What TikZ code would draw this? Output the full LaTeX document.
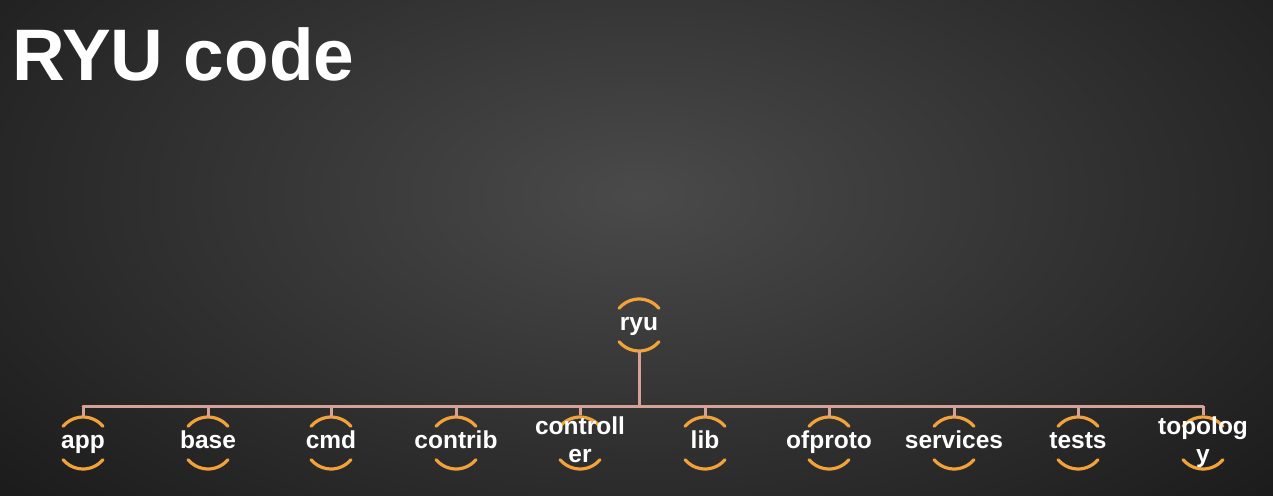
\documentclass[tikz,border=0pt]{standalone}
\usepackage{fontspec}
\setmainfont{Liberation Sans}
\definecolor{bginner}{HTML}{4A4A4A}
\definecolor{bgouter}{HTML}{1C1C1C}
\definecolor{arcc}{HTML}{F2A23A}
\definecolor{linkc}{HTML}{D6A197}
\pgfdeclarelayer{bglayer}
\pgfdeclarelayer{arclayer}
\pgfsetlayers{bglayer,arclayer,main}
\newcommand{\dirtext}[1]{\raisebox{-1.5pt}{\makebox[0pt][c]{\begin{tabular}{@{}c@{}}#1\end{tabular}}}}
\begin{document}
\begin{tikzpicture}[x=1pt,y=-1pt,
  dirnode/.style={circle, minimum size=52pt, inner sep=0pt,
    font=\bfseries\fontsize{24.5}{28}\selectfont, text=white},
  arcs/.style={draw=arcc, line width=3.2pt, line cap=round},
  link/.style={draw=linkc, line width=3pt}]
\useasboundingbox (0,0) rectangle (1273,495);
\begin{pgfonlayer}{bglayer}
\shade[inner color=bginner, outer color=bgouter] (-200,-250) rectangle (1480,640);
\end{pgfonlayer}
\node[anchor=base west, inner sep=0pt, text=white, font=\bfseries\fontsize{73}{80}\selectfont] (title) at (12,80) {RYU code};
% parent
\node[dirnode] (ryu) at (639,325) {\dirtext{ryu}};
% children
\foreach \n/\x/\t in {app/83/app, base/208/base, cmd/331/cmd, contrib/456/contrib,
  controller/580/{controll\\er}, lib/705/lib, ofproto/829/ofproto, services/954/services,
  tests/1078/tests, topology/1203/{topolog\\y}} {
  \node[dirnode] (\n) at (\x,443) {\dirtext{\t}};
}
\coordinate (busL) at (83,406);
\coordinate (busR) at (1203,406);
\coordinate (busM) at (639,406);
% arcs
\begin{pgfonlayer}{arclayer}
\foreach \n in {ryu,app,base,cmd,contrib,controller,lib,ofproto,services,tests,topology} {
  \path (\n.center) ++(40:26) coordinate (\n-a1);
  \path (\n.center) ++(-40:26) coordinate (\n-b1);
  \draw[arcs] (\n-a1) arc[start angle=40, end angle=140, radius=26];
  \draw[arcs] (\n-b1) arc[start angle=-40, end angle=-140, radius=26];
}
\draw[link, line cap=round] (busL) -- (busR);
\draw[link] (ryu.south) -- (busM);
\foreach \n in {app,base,cmd,contrib,controller,lib,ofproto,services,tests,topology} {
  \draw[link] (\n.north) -- (\n.north |- busM);
}
\end{pgfonlayer}
\end{tikzpicture}
\end{document}
